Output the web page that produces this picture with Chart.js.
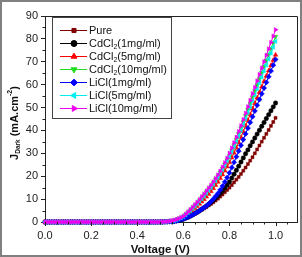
<!DOCTYPE html>
<html><head><meta charset="utf-8">
<script src="https://cdn.jsdelivr.net/npm/chart.js@4.4.0/dist/chart.umd.min.js"></script>
<style>html,body{margin:0;padding:0;background:#fff;}#wrap{width:302px;height:257px;}</style>
</head><body><div id="wrap"><canvas id="c" width="302" height="257"></canvas></div>
<script>
const voltage = [0.00,0.01,0.02,0.03,0.04,0.05,0.06,0.07,0.08,0.09,0.10,0.11,0.12,0.13,0.14,0.15,0.16,0.17,0.18,0.19,0.20,0.21,0.22,0.23,0.24,0.25,0.26,0.27,0.28,0.29,0.30,0.31,0.32,0.33,0.34,0.35,0.36,0.37,0.38,0.39,0.40,0.41,0.42,0.43,0.44,0.45,0.46,0.47,0.48,0.49,0.50,0.51,0.52,0.53,0.54,0.55,0.56,0.57,0.58,0.59,0.60,0.61,0.62,0.63,0.64,0.65,0.66,0.67,0.68,0.69,0.70,0.71,0.72,0.73,0.74,0.75,0.76,0.77,0.78,0.79,0.80,0.81,0.82,0.83,0.84,0.85,0.86,0.87,0.88,0.89,0.90,0.91,0.92,0.93,0.94,0.95,0.96,0.97,0.98,0.99,1.00];

const pure = [0,0,0,0,0,0,0,0,0,0,0,0,0,0,0,0,0,0,0,0,0,0,0,0,0,0,0,0,0,0,0,0,0,0,0,0,0,0,0,0,0,0,0,0,0,0,0,0,0,0,0,
 0.0,0.1,0.1,0.2,0.2, 0.3,0.5,0.7,0.9,1.2, 1.6,2.0,2.5,3.0,3.5, 4.1,4.7,5.3,5.9,6.5, 7.2,7.9,8.6,9.4,10.2, 11.1,12.0,13.0,14.0,15.0, 16.1,17.3,18.5,19.7,21.0, 22.4,23.8,25.3,26.8,28.3, 30.0,31.7,33.4,35.1,36.8, 38.5,40.2,42.0,43.7,45.5];
const cdcl2_1 = [0,0,0,0,0,0,0,0,0,0,0,0,0,0,0,0,0,0,0,0,0,0,0,0,0,0,0,0,0,0,0,0,0,0,0,0,0,0,0,0,0,0,0,0,0,0,0,0,0,0,0,
 0.0,0.1,0.1,0.2,0.2, 0.3,0.5,0.7,1.0,1.3, 1.7,2.1,2.6,3.1,3.7, 4.3,4.9,5.6,6.3,7.0, 7.8,8.6,9.5,10.5,11.5, 12.6,13.7,14.9,16.2,17.5, 19.2,20.9,22.6,24.4,26.2, 28.0,29.8,31.5,33.3,35.0, 36.7,38.4,40.1,41.8,43.5, 45.2,46.9,48.6,50.3,52.0];
const cdcl2_5 = [0,0,0,0,0,0,0,0,0,0,0,0,0,0,0,0,0,0,0,0,0,0,0,0,0,0,0,0,0,0,0,0,0,0,0,0,0,0,0,0,0,0,0,0,0,0,0,0,0,0,0,
 0.1,0.1,0.2,0.2,0.3, 0.5,0.8,1.1,1.5,2.0, 2.7,3.5,4.3,5.1,6.0, 6.9,7.9,8.9,9.9,11.0, 12.2,13.4,14.7,16.1,17.5, 19.1,20.7,22.4,24.2,26.0, 28.1,30.2,32.4,34.7,37.0, 39.5,42.0,44.5,47.0,49.5, 51.9,54.3,56.7,59.1,61.5, 63.8,66.1,68.4,70.7,73.0];
const cdcl2_10 = [0,0,0,0,0,0,0,0,0,0,0,0,0,0,0,0,0,0,0,0,0,0,0,0,0,0,0,0,0,0,0,0,0,0,0,0,0,0,0,0,0,0,0,0,0,0,0,0,0,0,0,
 0.1,0.1,0.2,0.3,0.4, 0.7,1.0,1.4,1.8,2.3, 3.1,4.0,5.0,6.0,7.0, 8.1,9.3,10.5,11.7,13.0, 14.3,15.6,17.0,18.5,20.0, 21.7,23.4,25.2,27.1,29.0, 31.3,33.6,36.0,38.5,41.0, 43.7,46.4,49.1,51.8,54.5, 57.2,59.9,62.6,65.3,68.0, 70.6,73.2,75.8,78.4,81.0];
const licl_1 = [0,0,0,0,0,0,0,0,0,0,0,0,0,0,0,0,0,0,0,0,0,0,0,0,0,0,0,0,0,0,0,0,0,0,0,0,0,0,0,0,0,0,0,0,0,0,0,0,0,0,0,
 0.0,0.1,0.1,0.2,0.2, 0.3,0.5,0.7,1.0,1.3, 1.7,2.1,2.6,3.1,3.7, 4.3,4.9,5.6,6.3,7.0, 7.9,8.9,10.0,11.2,12.5, 14.0,15.7,17.5,19.4,21.5, 23.8,26.1,28.5,31.0,33.5, 36.0,38.5,41.0,43.5,46.0, 48.5,51.0,53.5,56.0,58.5, 61.0,63.5,66.0,68.5,71.0];
const licl_5 = [0,0,0,0,0,0,0,0,0,0,0,0,0,0,0,0,0,0,0,0,0,0,0,0,0,0,0,0,0,0,0,0,0,0,0,0,0,0,0,0,0,0,0,0,0,0,0,0,0,0,0,
 0.1,0.1,0.2,0.3,0.4, 0.7,1.0,1.4,1.9,2.4, 3.2,4.1,5.0,6.0,7.0, 8.0,9.1,10.2,11.3,12.5, 13.8,15.1,16.5,18.0,19.5, 21.2,22.9,24.7,26.6,28.5, 30.7,32.9,35.2,37.6,40.0, 42.6,45.2,47.8,50.4,53.0, 55.6,58.2,60.8,63.4,66.0, 68.6,71.2,73.8,76.4,79.0];
const licl_10 = [0,0,0,0,0,0,0,0,0,0,0,0,0,0,0,0,0,0,0,0,0,0,0,0,0,0,0,0,0,0,0,0,0,0,0,0,0,0,0,0,0,0,0,0,0,0,0,0,0,0,0,
 0.1,0.1,0.2,0.3,0.5, 0.8,1.1,1.5,2.0,2.5, 3.4,4.4,5.4,6.4,7.5, 8.6,9.8,11.0,12.2,13.5, 14.8,16.1,17.5,19.0,20.5, 22.2,24.0,25.9,27.9,30.0, 32.3,34.6,37.0,39.5,42.0, 44.7,47.5,50.3,53.1,56.0, 58.8,61.6,64.4,67.2,70.0, 72.8,75.6,78.4,81.2,84.0];

const seriesNames = ['Pure','CdCl|2|(1mg/ml)','CdCl|2|(5mg/ml)','CdCl|2|(10mg/ml)','LiCl(1mg/ml)','LiCl(5mg/ml)','LiCl(10mg/ml)'];
const xTickValues = [0.0,0.2,0.4,0.6,0.8,1.0];
const xTickLabels = ['0.0','0.2','0.4','0.6','0.8','1.0'];
const yTickValues = [0,10,20,30,40,50,60,70,80,90];
const yTickLabels = ['0','10','20','30','40','50','60','70','80','90'];

const allSeries = [pure,cdcl2_1,cdcl2_5,cdcl2_10,licl_1,licl_5,licl_10];
const styles = [
  {c:'#800000', ps:'rect', rot:0, r:2.1},
  {c:'#000000', ps:'circle', rot:0, r:2.2},
  {c:'#ff0000', ps:'triangle', rot:0, r:2.6},
  {c:'#22dd22', ps:'triangle', rot:180, r:2.6},
  {c:'#0000ff', ps:'rectRot', rot:0, r:2.6},
  {c:'#00eeee', ps:'triangle', rot:-90, r:2.6},
  {c:'#ee00ee', ps:'triangle', rot:90, r:2.6}
];

const datasets = allSeries.map((s,k)=>({
  label: seriesNames[k].replace(/\|/g,''),
  data: voltage.map((v,i)=>({x:v,y:s[i]})),
  borderColor: styles[k].c, backgroundColor: styles[k].c,
  borderWidth: 1, pointStyle: styles[k].ps, pointRotation: styles[k].rot,
  pointRadius: styles[k].r, pointBorderWidth: 0.5, showLine: true,
  order: allSeries.length - k, clip: false
}));

const FONT = '"Liberation Sans", Arial, sans-serif';

const deco = {
  id: 'deco',
  beforeDraw(chart){
    const ctx = chart.ctx; ctx.save(); ctx.fillStyle='#fff'; ctx.fillRect(0,0,chart.width,chart.height); ctx.restore();
  },
  afterDraw(chart){
    const {ctx, chartArea:a, scales:{x,y}} = chart;
    ctx.save();
    ctx.strokeStyle='#222'; ctx.lineWidth=1;
    ctx.beginPath();
    ctx.moveTo(a.left, a.top+0.5); ctx.lineTo(a.right+0.5, a.top+0.5); ctx.lineTo(a.right+0.5, a.bottom);
    ctx.stroke();
    ctx.beginPath();
    for(let k=1;k<=21;k++){ if(k%4===0) continue; const px=Math.round(x.getPixelForValue(k*0.05))+0.5; if(px>a.right) continue; ctx.moveTo(px,a.bottom); ctx.lineTo(px,a.bottom+2.5); }
    for(let k=1;k<18;k+=2){ const py=Math.round(y.getPixelForValue(k*5))+0.5; ctx.moveTo(a.left,py); ctx.lineTo(a.left-2.5,py); }
    xTickValues.forEach(v=>{ const px=Math.round(x.getPixelForValue(v))+0.5; ctx.moveTo(px,a.bottom); ctx.lineTo(px,a.bottom+4); });
    ctx.stroke();
    ctx.fillStyle='#222'; ctx.font='11px '+FONT; ctx.textAlign='center'; ctx.textBaseline='middle';
    xTickValues.forEach((v,i)=>{ ctx.fillText(xTickLabels[i], x.getPixelForValue(v), 236); });
    ctx.fillStyle='#111'; ctx.font='bold 11.5px '+FONT; ctx.textAlign='center'; ctx.textBaseline='middle';
    ctx.fillText('Voltage (V)', (x.getPixelForValue(0)+x.getPixelForValue(1))/2, 250);
    ctx.save();
    ctx.translate(15, (a.top+a.bottom)/2+4); ctx.rotate(-Math.PI/2);
    const parts = [
      {t:'J', f:'bold 11px '+FONT, dy:0},
      {t:'Dark', f:'bold 6.5px '+FONT, dy:3},
      {t:' (mA.cm', f:'bold 11px '+FONT, dy:0},
      {t:'-2', f:'bold 7px '+FONT, dy:-4.5},
      {t:')', f:'bold 11px '+FONT, dy:0}
    ];
    let tw=0; parts.forEach(p=>{ctx.font=p.f; p.w=ctx.measureText(p.t).width; tw+=p.w;});
    let cx=-tw/2; ctx.textAlign='left'; ctx.textBaseline='middle';
    parts.forEach(p=>{ctx.font=p.f; ctx.fillText(p.t,cx,p.dy); cx+=p.w;});
    ctx.restore();
    const L={x:52,y:17,w:119,h:101};
    ctx.fillStyle='#fff'; ctx.fillRect(L.x,L.y,L.w,L.h);
    ctx.strokeStyle='#444'; ctx.lineWidth=1; ctx.strokeRect(L.x+0.5,L.y+0.5,L.w,L.h);
    seriesNames.forEach((name,k)=>{
      const yy = 30 + k*13;
      const st = styles[k];
      ctx.strokeStyle=st.c; ctx.lineWidth=1;
      ctx.beginPath(); ctx.moveTo(60,yy+0.5); ctx.lineTo(87,yy+0.5); ctx.stroke();
      ctx.fillStyle=st.c;
      Chart.helpers.drawPoint(ctx,{pointStyle:st.ps,rotation:st.rot,radius:st.r+0.8,borderWidth:0.5},74,yy+0.5);
      const segs = name.split('|');
      let tx=89; ctx.fillStyle='#111'; ctx.textAlign='left'; ctx.textBaseline='middle';
      segs.forEach((s,j)=>{
        if(j===1){ ctx.font='7px '+FONT; ctx.fillText(s,tx,yy+4); tx+=ctx.measureText(s).width; }
        else { ctx.font='11px '+FONT; ctx.fillText(s,tx,yy+1); tx+=ctx.measureText(s).width; }
      });
    });
    ctx.strokeStyle='#808080'; ctx.lineWidth=2; ctx.strokeRect(1,1,chart.width-2,chart.height-2);
    ctx.restore();
  }
};

new Chart(document.getElementById('c'), {
  type: 'scatter',
  data: { datasets },
  options: {
    responsive: false, animation: false,
    layout: { padding: {top:16, right:5, left:0, bottom:0} },
    plugins: { legend:{display:false}, tooltip:{enabled:false} },
    scales: {
      x: {
        type:'linear', min:0, max:1.093,
        afterFit(s){ s.height = 35; },
        ticks: { display:false },
        grid: { display:false },
        border: { display:true, color:'#222', width:1 }
      },
      y: {
        type:'linear', min:0, max:90,
        afterBuildTicks(s){ s.ticks = yTickValues.map(v=>({value:v})); },
        afterFit(s){ s.width = 45; },
        ticks: { color:'#222', font:{family:FONT, size:11}, padding:3,
          callback:(v)=>{ const i=yTickValues.indexOf(v); return i>=0?yTickLabels[i]:''; } },
        grid: { drawOnChartArea:false, drawTicks:true, tickLength:4, color:'#222' },
        border: { display:true, color:'#222', width:1 }
      }
    }
  },
  plugins: [deco]
});
</script>
</body></html>
